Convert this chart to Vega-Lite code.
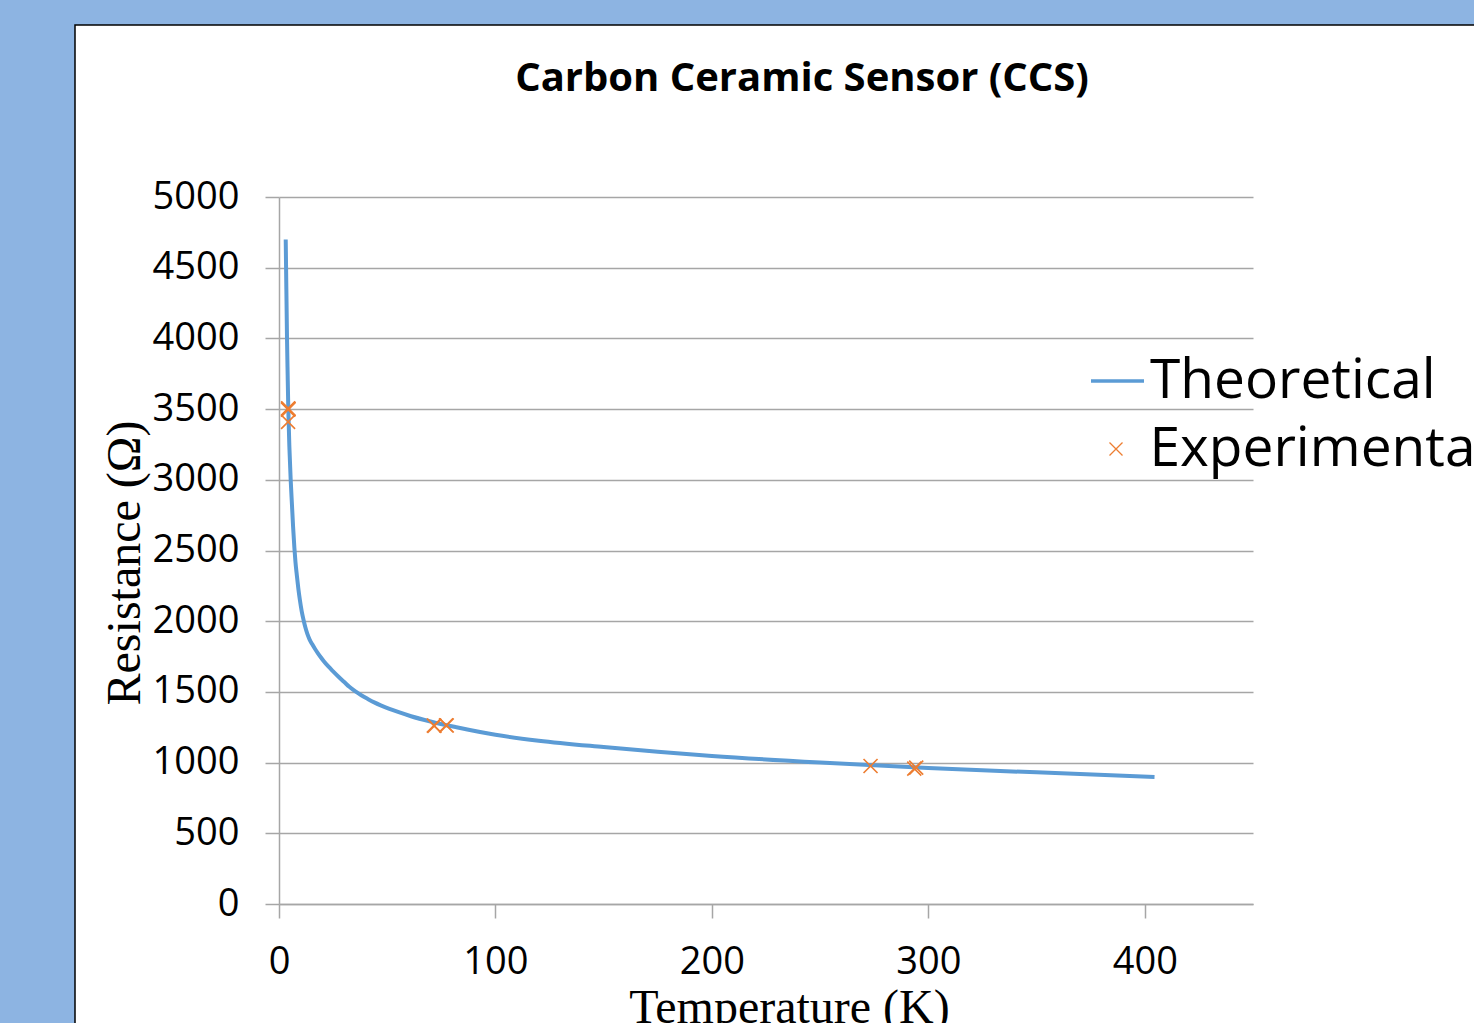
{
  "$schema": "https://vega.github.io/schema/vega-lite/v6.json",
  "width": 974,
  "height": 707,
  "autosize": {"type": "none"},
  "padding": {"left": 279, "top": 197, "right": 221, "bottom": 119},
  "background": "#ffffff",
  "title": {
    "text": "Carbon Ceramic Sensor (CCS)",
    "font": "Open Sans",
    "fontSize": 40,
    "fontWeight": "bold",
    "color": "#000000",
    "anchor": "middle",
    "frame": "group",
    "baseline": "alphabetic",
    "offset": -146.5,
    "dx": 36
  },
  "datasets": {
    "theoretical": [
      {"T": 3.1, "R": 4700},
      {"T": 3.4, "R": 4350},
      {"T": 3.7, "R": 4000},
      {"T": 4.0, "R": 3740},
      {"T": 4.3, "R": 3500},
      {"T": 4.8, "R": 3230},
      {"T": 5.4, "R": 3000},
      {"T": 6.0, "R": 2820},
      {"T": 6.5, "R": 2670},
      {"T": 7.1, "R": 2520},
      {"T": 7.6, "R": 2420},
      {"T": 8.2, "R": 2330},
      {"T": 8.9, "R": 2235},
      {"T": 9.6, "R": 2155},
      {"T": 10.5, "R": 2070},
      {"T": 11.4, "R": 2005},
      {"T": 12.2, "R": 1955},
      {"T": 13.1, "R": 1910},
      {"T": 14.1, "R": 1872},
      {"T": 15.3, "R": 1838},
      {"T": 16.6, "R": 1805},
      {"T": 18, "R": 1773},
      {"T": 19.3, "R": 1745},
      {"T": 20.7, "R": 1717},
      {"T": 22.8, "R": 1680},
      {"T": 25, "R": 1645},
      {"T": 27.5, "R": 1607},
      {"T": 30, "R": 1572},
      {"T": 32.5, "R": 1536},
      {"T": 35.3, "R": 1503},
      {"T": 38, "R": 1476},
      {"T": 41, "R": 1450},
      {"T": 44, "R": 1426},
      {"T": 47, "R": 1405},
      {"T": 51, "R": 1380},
      {"T": 55, "R": 1358},
      {"T": 61, "R": 1328},
      {"T": 70, "R": 1291},
      {"T": 82, "R": 1250},
      {"T": 100, "R": 1197},
      {"T": 120, "R": 1155},
      {"T": 150, "R": 1110},
      {"T": 175, "R": 1077},
      {"T": 200, "R": 1047},
      {"T": 250, "R": 1000},
      {"T": 300, "R": 962},
      {"T": 350, "R": 931},
      {"T": 404.5, "R": 898}
    ],
    "experimental": [
      {"T": 4.2, "R": 3505},
      {"T": 4.3, "R": 3500},
      {"T": 4.2, "R": 3495},
      {"T": 4.4, "R": 3502},
      {"T": 4.2, "R": 3410},
      {"T": 71.5, "R": 1262},
      {"T": 71.8, "R": 1260},
      {"T": 77.5, "R": 1262},
      {"T": 77.2, "R": 1264},
      {"T": 273.3, "R": 976},
      {"T": 293.5, "R": 957},
      {"T": 294.4, "R": 964}
    ]
  },
  "layer": [
    {
      "data": {"values": [{}]},
      "mark": {"type": "rect", "fill": "#8db4e2", "strokeWidth": 0},
      "encoding": {
        "x": {
          "datum": -135,
          "type": "quantitative",
          "scale": {"domain": [0, 450], "nice": false, "zero": false},
          "axis": {
            "title": "Temperature (K)",
            "values": [0, 100, 200, 300, 400],
            "format": "d",
            "grid": false,
            "domainColor": "#a6a6a6",
            "domainWidth": 1.5,
            "tickColor": "#a6a6a6",
            "tickWidth": 1.5,
            "tickSize": 14,
            "labelPadding": 25,
            "labelFont": "Open Sans",
            "labelFontSize": 38,
            "labelColor": "#000000",
            "labelFlush": false,
            "labelOverlap": false,
            "titleFont": "Liberation Serif",
            "titleFontSize": 48,
            "titleFontWeight": "normal",
            "titleColor": "#000000",
            "titleX": 510,
            "titleY": 118,
            "titleAlign": "center",
            "titleBaseline": "alphabetic"
          }
        },
        "x2": {"datum": -94.25},
        "y": {
          "datum": -1500,
          "type": "quantitative",
          "scale": {"domain": [0, 5000], "nice": false, "zero": false},
          "axis": {
            "title": "Resistance (Ω)",
            "values": [0, 500, 1000, 1500, 2000, 2500, 3000, 3500, 4000, 4500, 5000],
            "format": "d",
            "grid": true,
            "gridColor": "#a6a6a6",
            "gridWidth": 1.5,
            "domainColor": "#a6a6a6",
            "domainWidth": 1.5,
            "tickColor": "#a6a6a6",
            "tickWidth": 1.5,
            "tickSize": 14,
            "labelPadding": 26,
            "labelFont": "Open Sans",
            "labelFontSize": 38,
            "labelColor": "#000000",
            "labelFlush": false,
            "labelOverlap": false,
            "titleFont": "Liberation Serif",
            "titleFontSize": 48,
            "titleFontWeight": "normal",
            "titleColor": "#000000",
            "titleX": -140,
            "titleY": 365.5,
            "titleAngle": 270,
            "titleAlign": "center",
            "titleBaseline": "alphabetic"
          }
        },
        "y2": {"datum": 6216.4}
      }
    },
    {
      "data": {"values": [{}]},
      "mark": {"type": "rect", "fill": "#8db4e2", "strokeWidth": 0},
      "encoding": {
        "x": {"datum": -135, "type": "quantitative"},
        "x2": {"datum": 700},
        "y": {"datum": 6216.4, "type": "quantitative"},
        "y2": {"datum": 6500}
      }
    },
    {
      "data": {"values": [{}]},
      "mark": {"type": "rect", "filled": false, "stroke": "#000000", "strokeWidth": 1.5},
      "encoding": {
        "x": {"datum": -94.25, "type": "quantitative"},
        "x2": {"datum": 700},
        "y": {"datum": -1500, "type": "quantitative"},
        "y2": {"datum": 6216.4}
      }
    },
    {
      "data": {"name": "theoretical"},
      "mark": {"type": "line", "strokeWidth": 4, "interpolate": "monotone"},
      "encoding": {
        "x": {"field": "T", "type": "quantitative", "title": "Temperature (K)"},
        "y": {"field": "R", "type": "quantitative", "title": "Resistance (Ω)"},
        "color": {
          "datum": "Theoretical",
          "scale": {"range": ["#5b9bd5"]},
          "legend": {
            "orient": "none",
            "legendX": 810,
            "legendY": 155.5,
            "title": null,
            "padding": 0,
            "symbolType": "stroke",
            "symbolSize": 2809,
            "symbolStrokeWidth": 3.5,
            "labelFont": "Open Sans",
            "labelFontSize": 55,
            "labelColor": "#000000",
            "labelOffset": 4,
            "labelLimit": 0
          }
        }
      }
    },
    {
      "data": {"name": "experimental"},
      "mark": {"type": "point", "filled": false, "stroke": "#ed7d31", "strokeWidth": 1.6, "size": 196, "opacity": 1},
      "encoding": {
        "x": {"field": "T", "type": "quantitative", "title": "Temperature (K)"},
        "y": {"field": "R", "type": "quantitative", "title": "Resistance (Ω)"},
        "shape": {
          "datum": "Experimental",
          "scale": {"range": ["M-1,-1L1,1M-1,1L1,-1"]},
          "legend": {
            "orient": "none",
            "legendX": 809.5,
            "legendY": 224.5,
            "title": null,
            "padding": 0,
            "symbolSize": 169,
            "symbolStrokeColor": "#ed7d31",
            "symbolFillColor": "transparent",
            "symbolStrokeWidth": 1.3,
            "labelFont": "Open Sans",
            "labelFontSize": 55,
            "labelColor": "#000000",
            "labelOffset": 6,
            "labelLimit": 0
          }
        }
      }
    }
  ],
  "config": {
    "view": {"stroke": null},
    "font": "Open Sans"
  }
}
